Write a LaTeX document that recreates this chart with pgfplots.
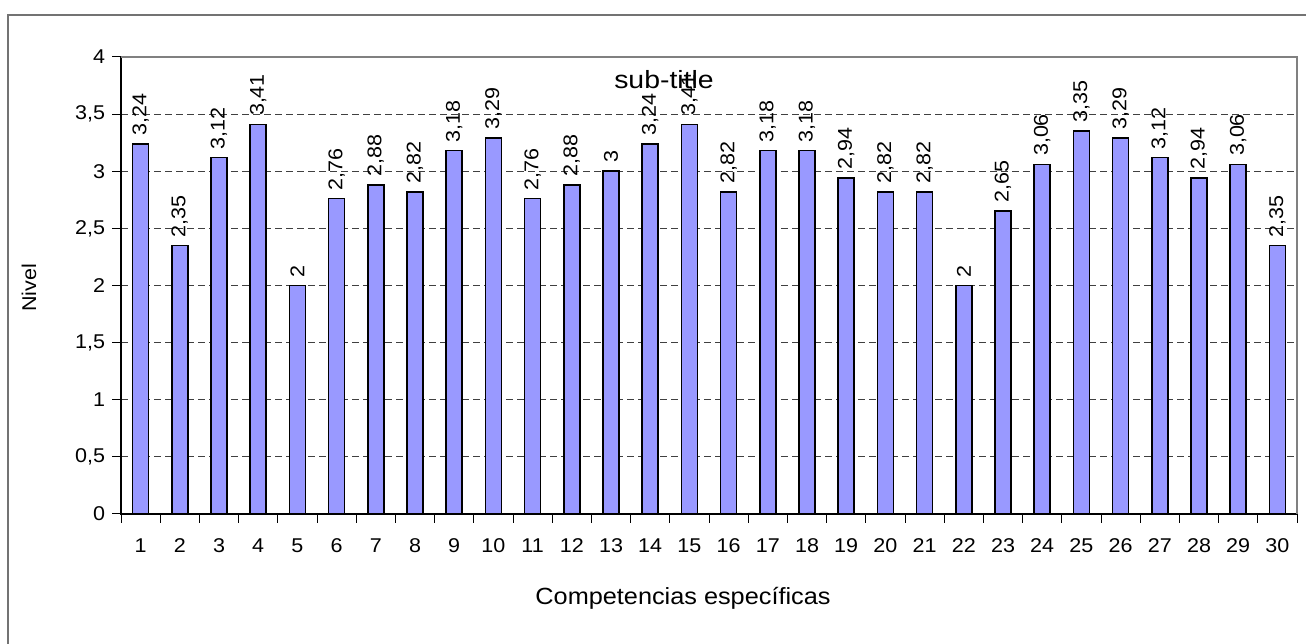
\documentclass[border=0pt]{standalone}
\usepackage{fontspec}
\setmainfont{Liberation Sans}
\newfontfamily\titlefont[FakeStretch=1.14]{Liberation Sans}
\newfontfamily\tickfont[FakeStretch=1.08]{Liberation Sans}
\usepackage{pgfplots}
\pgfplotsset{compat=1.18}
\definecolor{barfill}{HTML}{9999FF}
\newcommand{\lblfont}{\tickfont\fontsize{20}{24}\selectfont}
\begin{document}
\lblfont
\begin{tikzpicture}[x=1bp,y=1bp]
\useasboundingbox (0,0) rectangle (1306,644);
\draw[black!55, line width=1.2bp] (8,-30) rectangle (1340,629);
\begin{axis}[
  at={(121bp,130bp)}, anchor=south west,
  scale only axis, width=1176bp, height=457bp,
  xmin=0.5, xmax=30.5, ymin=0, ymax=4,
  clip=false,
  axis line style={draw=none},
  ybar, bar width=16bp,
  ymajorgrids,
  major grid style={black!75, line width=0.9bp, dash pattern=on 7bp off 4bp},
  ytick={0,0.5,...,4},
  tick label style={font=\lblfont, /pgf/number format/use comma, /pgf/number format/assume math mode=true},
  xtick={0.5,1.5,...,30.5},
  xticklabels={},
  xticklabel style={yshift=-18bp},
  tick align=outside,
  tick pos=left,
  major tick length=9bp,
  tick style={black, line width=1bp},
  extra x ticks={1,2,...,30},
  extra x tick labels={1,2,3,4,5,6,7,8,9,10,11,12,13,14,15,16,17,18,19,20,21,22,23,24,25,26,27,28,29,30},
  extra x tick style={major tick length=0pt, grid=none},
  nodes near coords,
  nodes near coords style={rotate=90, anchor=west, font=\lblfont, xshift=1bp,
    /pgf/number format/use comma, /pgf/number format/assume math mode=true},
]
\addplot[fill=barfill, draw=black, line width=1.6bp] coordinates {
(1,3.24) (2,2.35) (3,3.12) (4,3.41) (5,2) (6,2.76) (7,2.88) (8,2.82) (9,3.18) (10,3.29)
(11,2.76) (12,2.88) (13,3) (14,3.24) (15,3.41) (16,2.82) (17,3.18) (18,3.18) (19,2.94) (20,2.82)
(21,2.82) (22,2) (23,2.65) (24,3.06) (25,3.35) (26,3.29) (27,3.12) (28,2.94) (29,3.06) (30,2.35)
};
\end{axis}
\draw[black, line width=1.2bp] (121,587) -- (121,130) -- (1297,130);
\draw[black!50, line width=1.2bp] (121,587) -- (1297,587) -- (1297,130);
\node[rotate=90, font=\fontsize{20}{24}\selectfont] at (29,356) {Nivel};
\node[font=\fontsize{23.5}{28}\selectfont] at (683,46) {Competencias específicas};
\node[font=\titlefont\fontsize{25}{30}\selectfont] at (664,564) {sub-title};
\end{tikzpicture}
\end{document}
